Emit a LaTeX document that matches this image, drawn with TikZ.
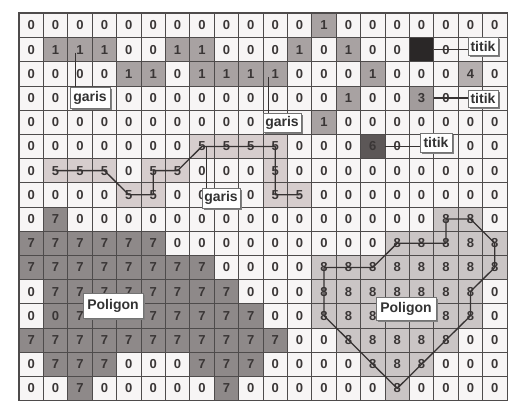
\documentclass[tikz,border=0pt]{standalone}
\usepackage{fontspec}
\setmainfont{Liberation Sans}
\usetikzlibrary{shadows}
\definecolor{cbg}{HTML}{F7F5F5}
\definecolor{cone}{HTML}{A8A2A2}
\definecolor{cseven}{HTML}{8E8989}
\definecolor{ceight}{HTML}{CAC5C5}
\definecolor{cfive}{HTML}{D6CDCD}
\definecolor{csix}{HTML}{5C5757}
\definecolor{cblk}{HTML}{2A2727}
\definecolor{cthree}{HTML}{A29C9C}
\definecolor{cfour}{HTML}{B5AFAF}
\definecolor{gridc}{HTML}{4E4B4B}
\definecolor{digc}{HTML}{3A3636}
\definecolor{linec}{HTML}{363232}
\tikzset{
  cell/.style={draw=gridc, line width=0.7pt, minimum width=24.4pt, minimum height=24.2pt,
    inner sep=0pt, font=\bfseries\fontsize{13}{14}\selectfont, text=digc},
  v0/.style={fill=cbg, node contents=0},
  v1/.style={fill=cone, node contents=1},
  v3/.style={fill=cthree, node contents=3},
  v4/.style={fill=cfour, node contents=4},
  v5/.style={fill=cfive, node contents=5},
  v6/.style={fill=csix, node contents=6},
  v7/.style={fill=cseven, node contents=7},
  v8/.style={fill=ceight, node contents=8},
  vB/.style={fill=cblk, node contents={}},
  vX/.style={fill=cseven, node contents=0},
  vE/.style={fill=cbg, node contents={}},
  vY/.style={fill=ceight, node contents={}},
  vZ/.style={fill=cseven, node contents={}},
  pline/.style={draw=linec, line width=1.3pt, line join=round},
  conn/.style={draw=linec, line width=1.1pt},
  gline/.style={draw=linec, line width=0.8pt},
  lbl/.style={draw=black!55, fill=white, line width=0.8pt, inner sep=1pt,
    font=\bfseries\fontsize{14}{15}\selectfont, text=black!80,
    drop shadow={shadow xshift=1.5pt, shadow yshift=-1.5pt, fill=black!50, opacity=1}},
}
\begin{document}
\begin{tikzpicture}[x=1pt, y=-1pt]
\useasboundingbox[fill=white] (0,0) rectangle (516,408);
\foreach \rowvals [count=\r from 0] in {
 {0,0,0,0,0,0,0,0,0,0,0,0,1,0,0,0,0,0,0,0},
 {0,1,1,1,0,0,1,1,0,0,0,1,0,1,0,0,B,0,E,E},
 {0,0,0,0,1,1,0,1,1,1,1,0,0,0,1,0,0,0,4,0},
 {0,0,E,E,0,0,0,0,0,0,0,0,0,1,0,0,3,0,E,E},
 {0,0,0,0,0,0,0,0,0,0,E,E,1,0,0,0,0,0,0,0},
 {0,0,0,0,0,0,0,5,5,5,5,0,0,0,6,0,E,E,0,0},
 {0,5,5,5,0,5,5,0,0,0,5,0,0,0,0,0,0,0,0,0},
 {0,0,0,0,5,5,0,0,E,0,5,5,0,0,0,0,0,0,0,0},
 {0,7,0,0,0,0,0,0,0,0,0,0,0,0,0,0,0,8,8,0},
 {7,7,7,7,7,7,0,0,0,0,0,0,0,0,0,8,8,8,8,8},
 {7,7,7,7,7,7,7,7,0,0,0,0,8,8,8,8,8,8,8,8},
 {0,7,7,7,7,7,7,7,7,0,0,0,8,8,8,8,8,8,8,0},
 {0,X,7,Z,Z,7,7,7,7,7,0,0,8,8,8,Y,Y,8,8,0},
 {7,7,7,7,7,7,7,7,7,7,7,0,0,8,8,8,8,8,0,0},
 {0,7,7,7,0,0,0,7,7,7,0,0,0,0,8,8,8,0,0,0},
 {0,0,7,0,0,0,0,0,7,0,0,0,0,0,0,8,0,0,0,0}} {
  \foreach \v [count=\c from 0] in \rowvals {
    \node[cell, v\v, name=c\r-\c, at={(31.2+24.4*\c, 25.4+24.2*\r)}];
  }
}
\draw[draw=gridc, line width=1pt] (c0-0.north west) rectangle (c15-19.south east);
% polylines
\draw[pline] (c6-1.center) -- (c6-3.center) -- (c7-4.center) -- (c7-5.center) -- (c6-5.center)
  -- (c6-6.center) -- (c5-7.center) -- (c5-10.center) -- (c7-10.center) -- (c7-11.center);
\draw[pline] (c8-17.center) -- (c8-18.center) -- (c9-19.center) -- (c10-19.center) -- (c11-18.center)
  -- (c12-18.center) -- (c15-15.center) -- (c12-12.center) -- (c10-12.center) -- (c10-14.center)
  -- (c9-15.center) -- (c9-17.center) -- cycle;
% labels
\node[lbl, minimum width=40pt, minimum height=21pt] (gA) at (90,97.5) {garis};
\node[lbl, minimum width=38pt, minimum height=19pt] (gB) at (282,122.5) {garis};
\node[lbl, minimum width=38pt, minimum height=20pt] (gC) at (221,198) {garis};
\node[lbl, minimum width=30pt, minimum height=18pt] (tA) at (483,46) {titik};
\node[lbl, minimum width=30pt, minimum height=17pt] (tB) at (483,98.5) {titik};
\node[lbl, minimum width=32pt, minimum height=19pt] (tC) at (436,142.5) {titik};
\node[lbl, minimum width=60pt, minimum height=25pt] (pA) at (113,305.5) {Poligon};
\node[lbl, minimum width=60pt, minimum height=23pt] (pB) at (406,308.5) {Poligon};
% connectors
\draw[conn] (c1-16.east) -- (c1-16.east -| tA.west);
\draw[conn] (c3-16.east) -- (c3-16.east -| tB.west);
\draw[conn] (c5-14.east) -- (c5-14.east -| tC.west);
\coordinate (gAs) at ([xshift=-5pt, yshift=-3pt]c1-2.center);
\coordinate (gBs) at ([xshift=-7pt, yshift=-3pt]c2-10.center);
\coordinate (gCs) at ([xshift=4pt]c5-7.center);
\draw[gline] (gAs) -- (gAs |- gA.north);
\draw[gline] (gBs) -- (gBs |- gB.north);
\draw[gline] (gCs) -- (gCs |- gC.north);
\end{tikzpicture}
\end{document}
